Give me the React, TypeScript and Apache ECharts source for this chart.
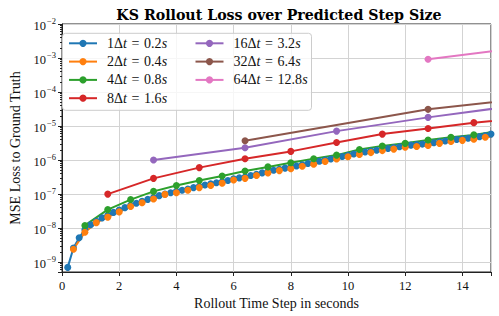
import React, { useEffect, useRef } from "react";
import * as echarts from "echarts";

const titleText = "KS Rollout Loss over Predicted Step Size";
const xAxisTitle = "Rollout Time Step in seconds";
const yAxisTitle = "MSE Loss to Ground Truth";

const EQ = "\u2004=\u2004";
const seriesNames = [
  `1Δ{i|t}${EQ}0.2{i|s}`,
  `2Δ{i|t}${EQ}0.4{i|s}`,
  `4Δ{i|t}${EQ}0.8{i|s}`,
  `8Δ{i|t}${EQ}1.6{i|s}`,
  `16Δ{i|t}${EQ}3.2{i|s}`,
  `32Δ{i|t}${EQ}6.4{i|s}`,
  `64Δ{i|t}${EQ}12.8{i|s}`,
];
const colors = ["#1f77b4", "#ff7f0e", "#2ca02c", "#d62728", "#9467bd", "#8c564b", "#e377c2"];

const blueX = [0.2,0.4,0.6,0.8,1.0,1.2,1.4,1.6,1.8,2.0,2.2,2.4,2.6,2.8,3.0,3.2,3.4,3.6,3.8,4.0,4.2,4.4,4.6,4.8,5.0,5.2,5.4,5.6,5.8,6.0,6.2,6.4,6.6,6.8,7.0,7.2,7.4,7.6,7.8,8.0,8.2,8.4,8.6,8.8,9.0,9.2,9.4,9.6,9.8,10.0,10.2,10.4,10.6,10.8,11.0,11.2,11.4,11.6,11.8,12.0,12.2,12.4,12.6,12.8,13.0,13.2,13.4,13.6,13.8,14.0,14.2,14.4,14.6,14.8,15.0];
const blueY = [7.0e-10,2.6e-9,5.2e-9,9.0e-9,1.25e-8,1.6e-8,2.0e-8,2.4e-8,2.9e-8,3.4e-8,4.0e-8,4.7e-8,5.4e-8,6.1e-8,7.0e-8,7.9e-8,9.0e-8,1.0e-7,1.1e-7,1.2e-7,1.3e-7,1.4e-7,1.55e-7,1.7e-7,1.85e-7,2.0e-7,2.15e-7,2.3e-7,2.5e-7,2.8e-7,3.0e-7,3.2e-7,3.5e-7,3.8e-7,4.2e-7,4.6e-7,5.0e-7,5.4e-7,5.8e-7,6.2e-7,6.7e-7,7.3e-7,7.9e-7,8.5e-7,9.2e-7,1.0e-6,1.08e-6,1.17e-6,1.27e-6,1.38e-6,1.5e-6,1.62e-6,1.72e-6,1.83e-6,1.95e-6,2.08e-6,2.2e-6,2.33e-6,2.47e-6,2.62e-6,2.75e-6,2.85e-6,2.95e-6,3.05e-6,3.25e-6,3.45e-6,3.65e-6,3.85e-6,4.05e-6,4.2e-6,4.4e-6,4.6e-6,4.9e-6,5.3e-6,5.8e-6];

const orangeX = [0.4,0.8,1.2,1.6,2.0,2.4,2.8,3.2,3.6,4.0,4.4,4.8,5.2,5.6,6.0,6.4,6.8,7.2,7.6,8.0,8.4,8.8,9.2,9.6,10.0,10.4,10.8,11.2,11.6,12.0,12.4,12.8,13.2,13.6,14.0,14.4,14.8,15.2];
const orangeY = [2.4e-9,7.6e-9,1.45e-8,2.1e-8,3.0e-8,4.3e-8,5.6e-8,7.2e-8,9.8e-8,1.1e-7,1.3e-7,1.55e-7,1.8e-7,2.1e-7,2.6e-7,2.9e-7,3.5e-7,4.2e-7,4.9e-7,5.6e-7,6.6e-7,7.6e-7,9.1e-7,1.07e-6,1.26e-6,1.47e-6,1.66e-6,1.9e-6,2.1e-6,2.4e-6,2.5e-6,2.7e-6,3.1e-6,3.5e-6,3.8e-6,4.1e-6,4.7e-6,5.1e-6];

const greenX = [0.8,1.6,2.4,3.2,4.0,4.8,5.6,6.4,7.2,8.0,8.8,9.6,10.4,11.2,12.0,12.8,13.6,14.4,15.2];
const greenY = [1.2e-8,3.5e-8,6.9e-8,1.2e-7,1.8e-7,2.5e-7,3.4e-7,4.8e-7,6.3e-7,8.3e-7,1.1e-6,1.4e-6,2.05e-6,2.6e-6,3.1e-6,3.9e-6,4.7e-6,5.5e-6,7.0e-6];

const redX = [1.6,3.2,4.8,6.4,8.0,9.6,11.2,12.8,14.4,16.0];
const redY = [1.0e-7,2.9e-7,6.0e-7,1.1e-6,1.8e-6,3.3e-6,5.8e-6,8.5e-6,1.26e-5,1.7e-5];

const purpleX = [3.2,6.4,9.6,12.8,16.0];
const purpleY = [1.0e-6,2.3e-6,7.1e-6,1.8e-5,4.1e-5];

const brownX = [6.4,12.8,19.2];
const brownY = [3.7e-6,3.1e-5,1.2e-4];

const pinkX = [12.8,25.6];
const pinkY = [9.2e-4,2.1e-2];

const xTicks = [0, 2, 4, 6, 8, 10, 12, 14];

const allX = [blueX, orangeX, greenX, redX, purpleX, brownX, pinkX];
const allY = [blueY, orangeY, greenY, redY, purpleY, brownY, pinkY];

const SERIF = "'Liberation Serif', 'DejaVu Serif', serif";
const TITLE_FONT = "'DejaVu Serif', 'Liberation Serif', serif";

export default function App() {
  const ref = useRef<HTMLDivElement>(null);
  useEffect(() => {
    if (!ref.current) return;
    const chart = echarts.init(ref.current, null, { renderer: "svg" });
    const series = seriesNames.map((name, i) => ({
      name,
      type: "line",
      data: allX[i].map((x, j) => [x, allY[i][j]]),
      color: colors[i],
      symbol: "circle",
      symbolSize: 7,
      showSymbol: true,
      lineStyle: { width: 2, color: colors[i] },
      itemStyle: { color: colors[i] },
      clip: true,
      z: 2,
    }));
    const legendText = {
      fontFamily: SERIF,
      fontSize: 14,
      lineHeight: 15,
      color: "#111",
      padding: [0, 0, 0, 5],
      rich: { i: { fontFamily: SERIF, fontStyle: "italic", fontSize: 14, lineHeight: 15, color: "#111" } },
    };
    const legendCommon = {
      orient: "vertical",
      top: 35.8,
      padding: 0,
      itemWidth: 28,
      itemHeight: 9,
      itemGap: 3.3,
      textStyle: legendText,
      z: 6,
    };
    chart.setOption({
      animation: false,
      backgroundColor: "#fff",
      title: {
        text: titleText,
        left: 274,
        textAlign: "center",
        top: 3,
        textStyle: { fontFamily: TITLE_FONT, fontWeight: "bold", fontSize: 14.2, color: "#000" },
      },
      grid: {
        left: 57,
        right: 8,
        top: 24,
        bottom: 44,
        show: true,
        borderColor: "#222",
        borderWidth: 1,
        backgroundColor: "transparent",
      },
      legend: [
        { ...legendCommon, data: seriesNames.slice(0, 4), left: 68 },
        { ...legendCommon, data: seriesNames.slice(4), left: 194.5 },
      ],
      graphic: [
        {
          type: "rect",
          shape: { x: 62.5, y: 33.3, width: 249, height: 77, r: 3 },
          style: { fill: "rgba(255,255,255,0.8)", stroke: "#ccc", lineWidth: 1 },
          z: 3,
        },
      ],
      xAxis: {
        type: "value",
        min: 0,
        max: 15,
        interval: 2,
        name: xAxisTitle,
        nameLocation: "middle",
        nameGap: 23,
        nameTextStyle: { fontFamily: SERIF, fontSize: 14, color: "#111" },
        axisLine: { show: true, lineStyle: { color: "#222" } },
        axisTick: { show: true, length: 4, lineStyle: { color: "#222" } },
        axisLabel: {
          fontFamily: SERIF,
          fontSize: 12.5,
          color: "#111",
          margin: 7,
          formatter: (v: number) => (xTicks.includes(v) ? String(v) : ""),
        },
        splitLine: { show: true, lineStyle: { color: "#d3d3d3", width: 1 } },
      },
      yAxis: {
        type: "log",
        logBase: 10,
        min: Math.pow(10, -9.29),
        max: 1e-2,
        name: yAxisTitle,
        nameLocation: "middle",
        nameGap: 40,
        nameTextStyle: { fontFamily: SERIF, fontSize: 14, color: "#111" },
        axisLine: { show: true, lineStyle: { color: "#222" } },
        axisTick: { show: true, length: 4, lineStyle: { color: "#222" } },
        minorTick: { show: true, splitNumber: 9, length: 2, lineStyle: { color: "#222" } },
        axisLabel: {
          showMinLabel: false,
          margin: 6,
          formatter: (v: number) => {
            const l = Math.log10(v);
            const e = Math.round(l);
            if (Math.abs(l - e) > 1e-6) return "";
            return `{b|10}{s|−${-e}}`;
          },
          rich: {
            b: { fontFamily: SERIF, fontSize: 12.5, color: "#111", lineHeight: 16, verticalAlign: "bottom" },
            s: { fontFamily: SERIF, fontSize: 8.5, color: "#111", lineHeight: 16, verticalAlign: "top", padding: [0, 0, 6, 1] },
          },
        },
        splitLine: { show: true, lineStyle: { color: "#d3d3d3", width: 1 } },
      },
      series,
    });
    return () => chart.dispose();
  }, []);
  return <div ref={ref} style={{ width: 499, height: 316, position: "absolute", left: 0, top: 0 }} />;
}
